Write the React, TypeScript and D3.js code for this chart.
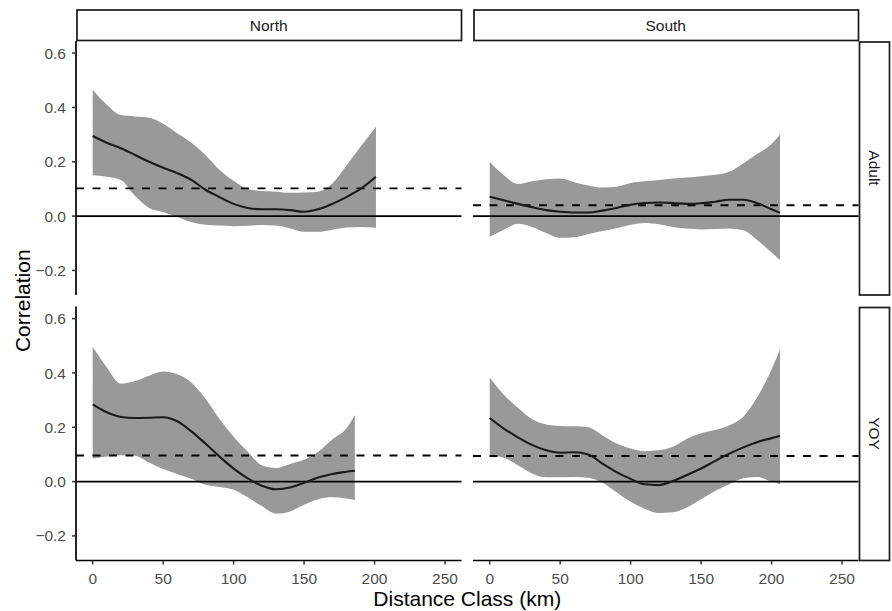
import React from 'react';
import * as d3 from 'd3';

// ---- Data ----
const distNorthAdult = [0, 10, 20, 30, 40, 50, 60, 70, 80, 90, 100, 110, 120, 130, 140, 150, 160, 170, 180, 190, 201];
const corrNorthAdult = [0.295, 0.27, 0.25, 0.225, 0.2, 0.178, 0.158, 0.133, 0.097, 0.07, 0.045, 0.03, 0.025, 0.025, 0.022, 0.016, 0.025, 0.045, 0.07, 0.1, 0.145];
const upperNorthAdult = [0.465, 0.41, 0.372, 0.367, 0.362, 0.34, 0.305, 0.27, 0.225, 0.17, 0.13, 0.1, 0.092, 0.09, 0.086, 0.087, 0.09, 0.12, 0.185, 0.255, 0.33];
const lowerNorthAdult = [0.15, 0.145, 0.133, 0.075, 0.03, 0.015, -0.003, -0.022, -0.032, -0.035, -0.037, -0.036, -0.033, -0.035, -0.045, -0.058, -0.058, -0.05, -0.042, -0.04, -0.043];
const nullNorthAdult = 0.102;

const distSouthAdult = [0, 10, 20, 30, 40, 50, 60, 70, 80, 90, 100, 110, 120, 130, 140, 150, 160, 170, 180, 190, 200, 206];
const corrSouthAdult = [0.071, 0.058, 0.045, 0.033, 0.022, 0.016, 0.013, 0.013, 0.02, 0.03, 0.042, 0.048, 0.05, 0.048, 0.045, 0.047, 0.053, 0.06, 0.06, 0.047, 0.025, 0.012];
const upperSouthAdult = [0.2, 0.15, 0.118, 0.128, 0.136, 0.138, 0.125, 0.113, 0.105, 0.108, 0.122, 0.128, 0.133, 0.138, 0.142, 0.147, 0.152, 0.163, 0.194, 0.229, 0.265, 0.3];
const lowerSouthAdult = [-0.076, -0.05, -0.028, -0.04, -0.062, -0.08, -0.078, -0.066, -0.055, -0.045, -0.032, -0.025, -0.03, -0.04, -0.046, -0.049, -0.048, -0.046, -0.052, -0.089, -0.134, -0.162];
const nullSouthAdult = 0.04;

const distNorthYOY = [0, 10, 20, 30, 40, 50, 60, 70, 80, 90, 100, 110, 120, 130, 140, 150, 160, 170, 180, 186];
const corrNorthYOY = [0.284, 0.255, 0.238, 0.234, 0.235, 0.237, 0.222, 0.185, 0.14, 0.092, 0.048, 0.012, -0.015, -0.028, -0.022, -0.004, 0.015, 0.028, 0.036, 0.04];
const upperNorthYOY = [0.495, 0.42, 0.36, 0.37, 0.39, 0.405, 0.395, 0.365, 0.305, 0.23, 0.165, 0.11, 0.06, 0.05, 0.065, 0.08, 0.11, 0.155, 0.195, 0.245];
const lowerNorthYOY = [0.085, 0.092, 0.097, 0.095, 0.07, 0.046, 0.028, 0.01, -0.012, -0.02, -0.03, -0.058, -0.09, -0.118, -0.11, -0.085, -0.065, -0.058, -0.062, -0.068];
const nullNorthYOY = 0.096;

const distSouthYOY = [0, 10, 20, 30, 40, 50, 60, 70, 80, 90, 100, 110, 120, 130, 140, 150, 160, 170, 180, 190, 200, 206];
const corrSouthYOY = [0.234, 0.195, 0.163, 0.135, 0.115, 0.106, 0.108, 0.1, 0.066, 0.035, 0.01, -0.01, -0.013, 0.002, 0.024, 0.048, 0.076, 0.103, 0.126, 0.146, 0.16, 0.168];
const upperSouthYOY = [0.383, 0.32, 0.272, 0.23, 0.21, 0.205, 0.204, 0.2, 0.17, 0.14, 0.122, 0.112, 0.115, 0.128, 0.158, 0.178, 0.19, 0.207, 0.239, 0.312, 0.413, 0.486];
const lowerSouthYOY = [0.097, 0.088, 0.06, 0.03, 0.016, 0.016, 0.017, 0.014, -0.004, -0.039, -0.074, -0.1, -0.116, -0.113, -0.095, -0.065, -0.035, -0.01, 0.012, 0.017, 0.0, -0.01];
const nullSouthYOY = 0.094;

const columnLabels = ['North', 'South'];
const rowLabels = ['Adult', 'YOY'];
const xTicks = [0, 50, 100, 150, 200, 250];
const yTicks = [-0.2, 0.0, 0.2, 0.4, 0.6];
const xTitle = 'Distance Class (km)';
const yTitle = 'Correlation';

// ---- Layout ----
const W = 892;
const H = 611;
const colX: [number, number][] = [[76, 461.5], [473, 858.5]];
const rowY: [number, number][] = [[41, 295], [306.5, 560.5]];
const xDomain: [number, number] = [-11.85, 261.7];
const yDomain: [number, number] = [-0.2905, 0.6445];
const FONT = "'Liberation Sans', Arial, Helvetica, sans-serif";

type Pt = { d: number; r: number; hi: number; lo: number };
const build = (dist: number[], r: number[], hi: number[], lo: number[]): Pt[] =>
  dist.map((d, i) => ({ d, r: r[i], hi: hi[i], lo: lo[i] }));

const panels = [
  { row: 0, col: 0, pts: build(distNorthAdult, corrNorthAdult, upperNorthAdult, lowerNorthAdult), nul: nullNorthAdult },
  { row: 0, col: 1, pts: build(distSouthAdult, corrSouthAdult, upperSouthAdult, lowerSouthAdult), nul: nullSouthAdult },
  { row: 1, col: 0, pts: build(distNorthYOY, corrNorthYOY, upperNorthYOY, lowerNorthYOY), nul: nullNorthYOY },
  { row: 1, col: 1, pts: build(distSouthYOY, corrSouthYOY, upperSouthYOY, lowerSouthYOY), nul: nullSouthYOY },
];

const fmt = d3.format('.1f');

export default function App() {
  return (
    <svg
      width={W}
      height={H}
      viewBox={`0 0 ${W} ${H}`}
      style={{ position: 'absolute', left: 0, top: 0, background: '#fff' }}
      fontFamily={FONT}
    >
      <rect x={0} y={0} width={W} height={H} fill="#fff" />
      {panels.map((p, i) => {
        const [x0, x1] = colX[p.col];
        const [y0, y1] = rowY[p.row];
        const x = d3.scaleLinear().domain(xDomain).range([x0, x1]);
        const y = d3.scaleLinear().domain(yDomain).range([y1, y0]);
        const area = d3
          .area<Pt>()
          .x((d) => x(d.d))
          .y0((d) => y(d.lo))
          .y1((d) => y(d.hi))
          .curve(d3.curveMonotoneX);
        const line = d3
          .line<Pt>()
          .x((d) => x(d.d))
          .y((d) => y(d.r))
          .curve(d3.curveMonotoneX);
        return (
          <g key={i}>
            <path d={area(p.pts) || ''} fill="#999999" stroke="none" />
            <line x1={x0} x2={x1} y1={y(0)} y2={y(0)} stroke="#000" strokeWidth={1.9} />
            <line
              x1={x0}
              x2={x1}
              y1={y(p.nul)}
              y2={y(p.nul)}
              stroke="#000"
              strokeWidth={1.9}
              strokeDasharray="8,8.5"
            />
            <path d={line(p.pts) || ''} fill="none" stroke="#1a1a1a" strokeWidth={2.1} />
            {p.col === 0 && (
              <g>
                <line x1={x0} x2={x0} y1={y0} y2={y1} stroke="#000" strokeWidth={1.7} />
                {yTicks.map((t) => (
                  <g key={t}>
                    <line x1={x0 - 4} x2={x0} y1={y(t)} y2={y(t)} stroke="#333" strokeWidth={1.5} />
                    <text
                      x={x0 - 10}
                      y={y(t)}
                      dy="0.36em"
                      textAnchor="end"
                      fontSize={15.5}
                      fill="#4d4d4d"
                    >
                      {fmt(t)}
                    </text>
                  </g>
                ))}
              </g>
            )}
            {p.row === 1 && (
              <g>
                <line x1={x0} x2={x1} y1={y1} y2={y1} stroke="#000" strokeWidth={1.7} />
                {xTicks.map((t) => (
                  <g key={t}>
                    <line x1={x(t)} x2={x(t)} y1={y1} y2={y1 + 4} stroke="#333" strokeWidth={1.5} />
                    <text x={x(t)} y={y1 + 23} textAnchor="middle" fontSize={15.5} fill="#4d4d4d">
                      {t}
                    </text>
                  </g>
                ))}
              </g>
            )}
          </g>
        );
      })}
      {columnLabels.map((lab, c) => {
        const [x0, x1] = colX[c];
        return (
          <g key={lab}>
            <rect x={x0 + 1} y={10} width={x1 - x0 - 1} height={30.5} fill="#fff" stroke="#1a1a1a" strokeWidth={1.7} />
            <text x={(x0 + x1) / 2} y={25.5} dy="0.36em" textAnchor="middle" fontSize={15.5} fill="#1a1a1a">
              {lab}
            </text>
          </g>
        );
      })}
      {rowLabels.map((lab, r) => {
        const [y0, y1] = rowY[r];
        return (
          <g key={lab}>
            <rect x={859.5} y={y0 + 1} width={30} height={y1 - y0 - 1} fill="#fff" stroke="#1a1a1a" strokeWidth={1.7} />
            <text
              transform={`translate(874.5,${(y0 + y1) / 2}) rotate(90)`}
              dy="0.36em"
              textAnchor="middle"
              fontSize={15.5}
              fill="#1a1a1a"
            >
              {lab}
            </text>
          </g>
        );
      })}
      <text x={(colX[0][0] + colX[1][1]) / 2} y={606} textAnchor="middle" fontSize={21} fill="#000">
        {xTitle}
      </text>
      <text
        transform={`translate(30,${(rowY[0][0] + rowY[1][1]) / 2}) rotate(-90)`}
        textAnchor="middle"
        fontSize={21}
        fill="#000"
      >
        {yTitle}
      </text>
    </svg>
  );
}
